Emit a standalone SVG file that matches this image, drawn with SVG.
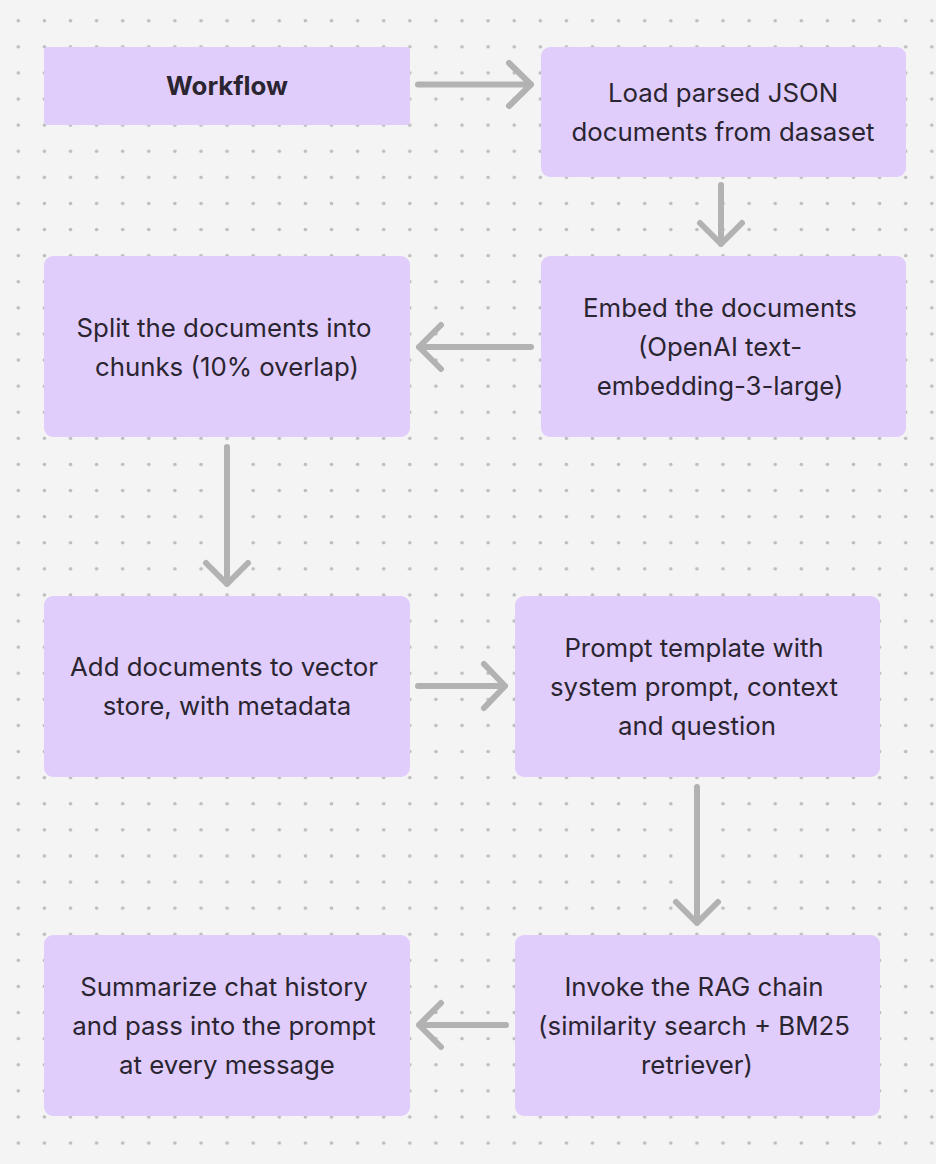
<svg xmlns="http://www.w3.org/2000/svg" width="936" height="1164" viewBox="0 0 936 1164">
  <defs>
    <pattern id="dots" x="5.25" y="7.65" width="26.1" height="26.1" patternUnits="userSpaceOnUse">
      <circle cx="13.05" cy="13.05" r="1.8" fill="#bdbdbd"/>
    </pattern>
    <style>
      .box { fill: #e0cdfb; }
      .label { font-family: Inter, "Noto Sans", "Liberation Sans", sans-serif; font-size: 25.8px; fill: #2a2530; text-anchor: middle; }
      .title { font-weight: 700; }
      .conn { fill: none; stroke: #b2b2b2; stroke-width: 6; stroke-linecap: round; stroke-linejoin: round; }
    </style>
  </defs>

  <!-- canvas with dot grid -->
  <rect width="936" height="1164" fill="#f4f4f4"/>
  <rect width="936" height="1164" fill="url(#dots)"/>

  <!-- nodes -->
  <g id="workflow">
    <rect class="box" x="44" y="47" width="366" height="78" rx="4"/>
    <text class="label title" x="227" y="95">Workflow</text>
  </g>
  <g id="load">
    <rect class="box" x="541" y="47" width="365" height="130" rx="9"/>
    <text class="label" x="723" y="102">Load parsed JSON</text>
    <text class="label" x="723" y="141">documents from dasaset</text>
  </g>
  <g id="embed">
    <rect class="box" x="541" y="256" width="365" height="181" rx="9"/>
    <text class="label" x="720" y="317">Embed the documents</text>
    <text class="label" x="720" y="356">(OpenAI text-</text>
    <text class="label" x="720" y="395">embedding-3-large)</text>
  </g>
  <g id="split">
    <rect class="box" x="44" y="256" width="366" height="181" rx="9"/>
    <text class="label" x="224" y="337">Split the documents into</text>
    <text class="label" x="227" y="376">chunks (10% overlap)</text>
  </g>
  <g id="add">
    <rect class="box" x="44" y="596" width="366" height="181" rx="9"/>
    <text class="label" x="224" y="676">Add documents to vector</text>
    <text class="label" x="227" y="715">store, with metadata</text>
  </g>
  <g id="prompt">
    <rect class="box" x="515" y="596" width="365" height="181" rx="9"/>
    <text class="label" x="694" y="657">Prompt template with</text>
    <text class="label" x="694" y="696">system prompt, context</text>
    <text class="label" x="697" y="735">and question</text>
  </g>
  <g id="summarize">
    <rect class="box" x="44" y="935" width="366" height="181" rx="9"/>
    <text class="label" x="224" y="996">Summarize chat history</text>
    <text class="label" x="224" y="1035">and pass into the prompt</text>
    <text class="label" x="227" y="1074">at every message</text>
  </g>
  <g id="invoke">
    <rect class="box" x="515" y="935" width="365" height="181" rx="9"/>
    <text class="label" x="694" y="996">Invoke the RAG chain</text>
    <text class="label" x="694" y="1035">(similarity search + BM25</text>
    <text class="label" x="697" y="1074">retriever)</text>
  </g>

  <!-- connectors -->
  <g id="connectors" class="conn">
    <path d="M418 84.5 H531 M509 63 L531 84.5 L509 106"/>
    <path d="M721 185 V244 M700 223 L721 244 L742 223"/>
    <path d="M531 347 H419 M441 325 L419 347 L441 369"/>
    <path d="M227 447 V584 M206 563 L227 584 L248 563"/>
    <path d="M418 686 H505 M484 664 L505 686 L484 708"/>
    <path d="M697 787 V923 M676 902 L697 923 L718 902"/>
    <path d="M506 1025 H419 M441 1003 L419 1025 L441 1047"/>
  </g>
</svg>
